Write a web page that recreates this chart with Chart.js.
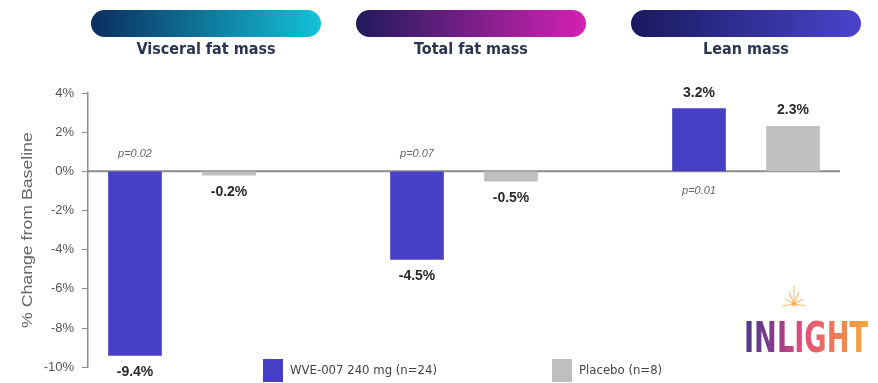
<!DOCTYPE html>
<html>
<head>
<meta charset="utf-8">
<script src="https://cdn.jsdelivr.net/npm/chart.js@4/dist/chart.umd.min.js"></script>
<style>
  html, body { margin: 0; padding: 0; background: #fff; }
  #wrap { position: relative; width: 878px; height: 383px; }
</style>
</head>
<body>
<div id="wrap"><canvas id="chart" width="878" height="383"></canvas></div>
<script>
const categories = ['Visceral fat mass', 'Total fat mass', 'Lean mass'];
const seriesNames = ['WVE-007 240 mg (n=24)', 'Placebo (n=8)'];
const wveValues = [-9.4, -4.5, 3.2];
const placeboValues = [-0.2, -0.5, 2.3];
const pValues = ['p=0.02', 'p=0.07', 'p=0.01'];
const yMin = -10;
const yMax = 4;
const yStep = 2;

const COLORS = {
    wve: '#4840c4',
    placebo: '#bfbfbf',
    axis: '#8c8c8c',
    tick: '#555',
    value: '#2a2a2a',
    header: '#2b3452',
    pills: [
        ['#0b2d5e', '#13c2d9'],
        ['#1f1b5c', '#d421b4'],
        ['#18195e', '#4a44cc']
    ]
};

const NARROW = "'Liberation Sans Narrow', 'DejaVu Sans Condensed', sans-serif";
const SANS = "'Liberation Sans', Arial, sans-serif";

// three slots per category: WVE, placebo, spacer
const slot = (cat, series) => cat * 3 + series;

const fmt = v => v.toFixed(1) + '%';

function roundRect(ctx, x, y, w, h, r) {
    ctx.beginPath();
    ctx.moveTo(x + r, y);
    ctx.lineTo(x + w - r, y);
    ctx.arc(x + w - r, y + r, r, -Math.PI / 2, Math.PI / 2);
    ctx.lineTo(x + r, y + h);
    ctx.arc(x + r, y + r, r, Math.PI / 2, Math.PI * 1.5);
    ctx.closePath();
}

function logoGradient(ctx, w) {
    const g = ctx.createLinearGradient(0, 0, w, 0);
    g.addColorStop(0, '#4b3a8c');
    g.addColorStop(0.25, '#8a3c8c');
    g.addColorStop(0.45, '#e2497c');
    g.addColorStop(0.75, '#f07d55');
    g.addColorStop(1, '#f3a93a');
    return g;
}

const decorations = {
    id: 'decorations',
    beforeDatasetsDraw(chart) {
        const { ctx, chartArea, scales: { y } } = chart;
        const y0 = y.getPixelForValue(0);
        ctx.save();
        ctx.strokeStyle = COLORS.axis;
        ctx.lineWidth = 2;
        ctx.beginPath();
        ctx.moveTo(chartArea.left, y0);
        ctx.lineTo(chartArea.right, y0);
        ctx.stroke();
        ctx.restore();
    },
    afterDraw(chart) {
        const { ctx, chartArea, scales: { x, y } } = chart;
        const y0 = y.getPixelForValue(0);
        ctx.save();

        // header pills with category names
        const pillCenters = [206, 471, 746];
        categories.forEach((name, i) => {
            const cx = pillCenters[i];
            const w = 230, h = 27;
            const g = ctx.createLinearGradient(cx - w / 2, 0, cx + w / 2, 0);
            g.addColorStop(0, COLORS.pills[i][0]);
            g.addColorStop(1, COLORS.pills[i][1]);
            ctx.fillStyle = g;
            roundRect(ctx, cx - w / 2, 10, w, h, h / 2);
            ctx.fill();
            ctx.fillStyle = COLORS.header;
            ctx.font = 'bold 16px ' + NARROW;
            ctx.textAlign = 'center';
            ctx.textBaseline = 'middle';
            ctx.fillText(name, cx, 50);
        });

        // value labels beyond each bar end
        ctx.font = 'bold 14px ' + SANS;
        ctx.fillStyle = COLORS.value;
        ctx.textAlign = 'center';
        ctx.textBaseline = 'middle';
        [wveValues, placeboValues].forEach((vals, s) => {
            vals.forEach((v, i) => {
                const px = x.getPixelForValue(slot(i, s));
                const py = y.getPixelForValue(v) + (v < 0 ? 17 : -16);
                ctx.fillText(fmt(v), px, py);
            });
        });

        // p-values on the opposite side of zero from the WVE bar
        ctx.font = 'italic 11px ' + SANS;
        ctx.fillStyle = '#666';
        pValues.forEach((p, i) => {
            const px = x.getPixelForValue(slot(i, 0));
            const py = wveValues[i] < 0 ? y0 - 17 : y0 + 20;
            ctx.fillText(p, px, py);
        });

        // y axis title
        ctx.save();
        ctx.translate(28, (chartArea.top + chartArea.bottom) / 2);
        ctx.rotate(-Math.PI / 2);
        ctx.scale(1.18, 1);
        ctx.font = '15px ' + SANS;
        ctx.fillStyle = '#666';
        ctx.fillText('% Change from Baseline', 0, 0);
        ctx.restore();

        // legend
        const legendX = [263, 552];
        ctx.font = '13px ' + NARROW;
        ctx.textAlign = 'left';
        seriesNames.forEach((name, s) => {
            ctx.fillStyle = s === 0 ? COLORS.wve : COLORS.placebo;
            ctx.fillRect(legendX[s], 359, 20, 23);
            ctx.fillStyle = '#444';
            ctx.fillText(name, legendX[s] + 27, 371);
        });

        // logo
        const lx = 744, ly = 352, lw = 124;
        ctx.font = 'bold 42px ' + NARROW;
        ctx.textAlign = 'left';
        ctx.textBaseline = 'alphabetic';
        const tw = ctx.measureText('INLIGHT').width;
        ctx.save();
        ctx.setTransform(lw / tw, 0, 0, 1.02, lx, ly);
        ctx.fillStyle = logoGradient(ctx, tw);
        ctx.fillText('INLIGHT', 0, 0);
        ctx.restore();

        // sparkle above the logo
        ctx.strokeStyle = 'rgba(245, 180, 90, 0.8)';
        ctx.lineWidth = 1.2;
        const sx = 794, sy = 304;
        [[0, -18], [-9, -5], [9, -5], [-12, 2], [12, 2], [-5, -12], [5, -12]].forEach(([dx, dy]) => {
            ctx.beginPath();
            ctx.moveTo(sx, sy);
            ctx.lineTo(sx + dx, sy + dy);
            ctx.stroke();
        });
        ctx.fillStyle = 'rgba(245, 170, 80, 0.7)';
        ctx.beginPath();
        ctx.arc(sx, sy, 2.5, 0, Math.PI * 2);
        ctx.fill();

        ctx.restore();
    }
};

const ctx = document.getElementById('chart').getContext('2d');

new Chart(ctx, {
    type: 'bar',
    data: {
        datasets: [
            {
                label: seriesNames[0],
                data: wveValues.map((v, i) => ({ x: slot(i, 0), y: v })),
                backgroundColor: COLORS.wve
            },
            {
                label: seriesNames[1],
                data: placeboValues.map((v, i) => ({ x: slot(i, 1), y: v })),
                backgroundColor: COLORS.placebo
            }
        ]
    },
    options: {
        responsive: false,
        animation: false,
        layout: { padding: { top: 93, right: 38, bottom: 13, left: 0 } },
        datasets: { bar: { grouped: false, barThickness: 53 } },
        plugins: {
            legend: { display: false },
            tooltip: { enabled: false }
        },
        scales: {
            x: {
                type: 'linear',
                offset: false,
                min: -0.5,
                max: 7.5,
                display: false
            },
            y: {
                min: yMin,
                max: yMax,
                afterFit: scale => { scale.width = 88; },
                ticks: {
                    stepSize: yStep,
                    padding: 8,
                    color: COLORS.tick,
                    font: { family: SANS, size: 13 },
                    callback: v => v + '%'
                },
                grid: {
                    drawOnChartArea: false,
                    drawTicks: true,
                    tickLength: 6,
                    color: COLORS.axis
                },
                border: { color: COLORS.axis, width: 1.5 }
            }
        }
    },
    plugins: [decorations]
});
</script>
</body>
</html>
